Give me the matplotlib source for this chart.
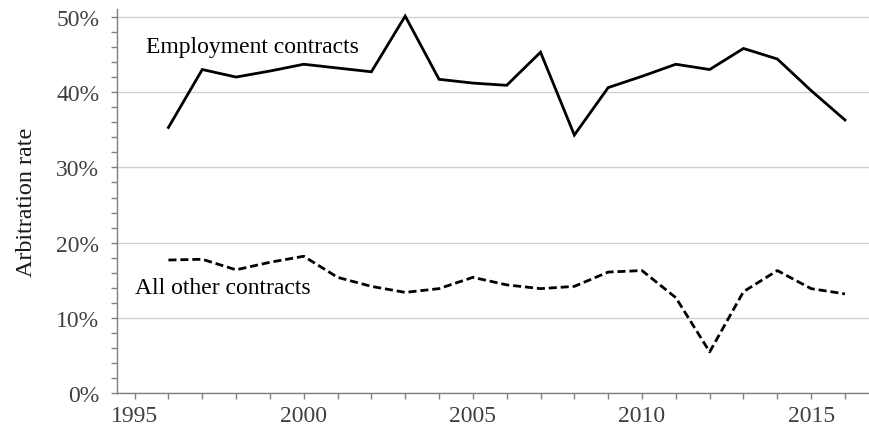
import matplotlib
matplotlib.use("Agg")
import matplotlib.pyplot as plt
from matplotlib.ticker import MultipleLocator, FuncFormatter

years = list(range(1996, 2017))
employment = [35.3, 43.0, 42.0, 42.8, 43.7, 43.2, 42.7, 50.1, 41.7, 41.2, 40.9,
              45.3, 34.3, 40.6, 42.1, 43.7, 43.0, 45.8, 44.4, 40.2, 36.3]
other = [17.7, 17.8, 16.4, 17.4, 18.2, 15.4, 14.2, 13.4, 13.9, 15.4, 14.4,
         13.9, 14.2, 16.1, 16.3, 12.7, 5.5, 13.5, 16.3, 13.9, 13.2]
x_ticks = [1995, 2000, 2005, 2010, 2015]
y_ticks = [0, 10, 20, 30, 40, 50]

plt.rcParams['font.family'] = ['Liberation Serif', 'DejaVu Serif']

fig = plt.figure(figsize=(8.7, 4.27), dpi=100)
ax = fig.add_axes([0.1341, 0.0766, 0.8659, 0.8993])

ax.plot(years, employment, color='black', lw=2.0, solid_joinstyle='miter', zorder=3)
ax.plot(years, other, color='black', lw=2.0, linestyle=(0, (2.9, 1.4)), zorder=3)

ax.set_xlim(1994.47, 2016.74)
ax.set_ylim(0, 51)

ax.set_xticks(x_ticks)
ax.xaxis.set_minor_locator(MultipleLocator(1))
ax.set_yticks(y_ticks)
ax.yaxis.set_minor_locator(MultipleLocator(2))
ax.yaxis.set_major_formatter(FuncFormatter(lambda v, p: f"{int(v)}%"))

for s in ['top', 'right']:
    ax.spines[s].set_visible(False)
for s in ['left', 'bottom']:
    ax.spines[s].set_color('#808080')
    ax.spines[s].set_linewidth(1.0)

ax.tick_params(axis='both', which='both', direction='out', length=4.5, width=1.0,
               color='#808080', labelsize=17, labelcolor='#404040')
ax.tick_params(axis='x', which='major', pad=4)
ax.tick_params(axis='y', which='major', pad=8)

ax.yaxis.grid(True, which='major', color='#d0d0d0', lw=1.0)
ax.set_axisbelow(True)

ax.set_ylabel('Arbitration rate', fontsize=17.4, color='#1a1a1a', labelpad=14)

ax.text(1995.34, 46.0, 'Employment contracts', fontsize=17, color='black', va='center', ha='left')
ax.text(1995.01, 14.1, 'All other contracts', fontsize=17, color='black', va='center', ha='left')

fig.savefig('out.png', dpi=100)
